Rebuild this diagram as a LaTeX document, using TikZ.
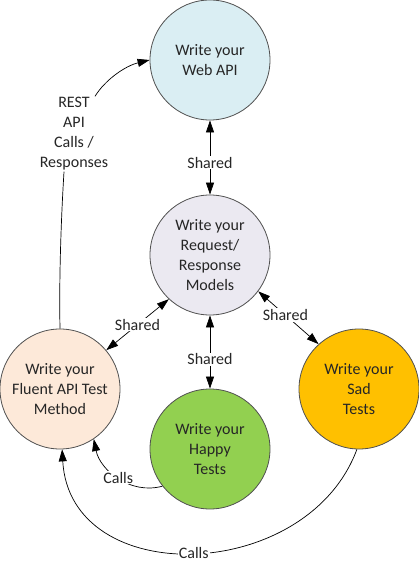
\documentclass[tikz,border=0pt]{standalone}
\usepackage{fontspec}
\setmainfont{Carlito}
\usetikzlibrary{arrows.meta}
\definecolor{webfill}{HTML}{DAEEF3}
\definecolor{modelfill}{HTML}{EBE9F1}
\definecolor{fluentfill}{HTML}{FDE9D9}
\definecolor{happyfill}{HTML}{92D050}
\definecolor{sadfill}{HTML}{FFC000}
\definecolor{rim}{HTML}{505050}
\definecolor{ink}{HTML}{262626}
\tikzset{
  stage/.style={circle,draw=rim,line width=0.8pt,minimum size=120pt,inner sep=0pt,align=center,text=ink},
  flowlbl/.style={fill=white,inner sep=1pt,align=center,text=ink},
  link/.style={line width=0.7pt,draw=black},
  tip/.style={-{Triangle[length=12pt,width=8pt]}},
  bothtips/.style={{Triangle[length=12pt,width=8pt]}-{Triangle[length=12pt,width=8pt]}}
}
\begin{document}
\begin{tikzpicture}[x=1pt,y=1pt,yscale=-1,xscale=1,font=\fontsize{16}{20}\selectfont]
			\useasboundingbox (0,0) rectangle (419,564);
			
			%Shape: Circle [web]
			\node[stage,fill=webfill] (web) at (210,60) {Write your\\Web API};
			%Shape: Circle [models]
			\node[stage,fill=modelfill] (models) at (210,255) {Write your\\Request/\\Response\\Models};
			%Shape: Circle [fluent]
			\node[stage,fill=fluentfill] (fluent) at (60,389) {Write your\\Fluent API Test\\Method};
			%Shape: Circle [happy]
			\node[stage,fill=happyfill] (happy) at (210,449) {Write your\\Happy\\Tests};
			%Shape: Circle [sad]
			\node[stage,fill=sadfill] (sad) at (359,389) {Write your\\Sad\\Tests};
			
			% Text Node
			\node[flowlbl] (rest) at (74,134) {REST\\API\\Calls /\\Responses};
			
			%Straight Lines [shared]
			\draw[link,bothtips] (web.south) -- (models.north) node[flowlbl,pos=0.57] {Shared};
			\draw[link,bothtips] (models.227) -- (fluent.40) node[flowlbl,midway] {Shared};
			\draw[link,bothtips] (models.south) -- (happy.north) node[flowlbl,pos=0.6] {Shared};
			\draw[link,bothtips] (models.323) -- (sad.132) node[flowlbl,pos=0.45] {Shared};
			
			%Curve Lines [rest calls]
			\draw[link] (fluent.north) .. controls (59,280) and (61,220) .. ([xshift=-10pt]rest.south);
			\draw[link,tip] ([xshift=21pt]rest.north) .. controls (105,80) and (125,66) .. (web.west);
			
			%Curve Lines [calls]
			\draw[link,tip] (happy.218) .. controls (130,495) and (100,470) .. (fluent.304) node[flowlbl,pos=0.5] {Calls};
			\draw[link,tip] (sad.268) .. controls (307,584) and (70,590) .. (fluent.272) node[flowlbl,pos=0.5] {Calls};
		\end{tikzpicture}
\end{document}
